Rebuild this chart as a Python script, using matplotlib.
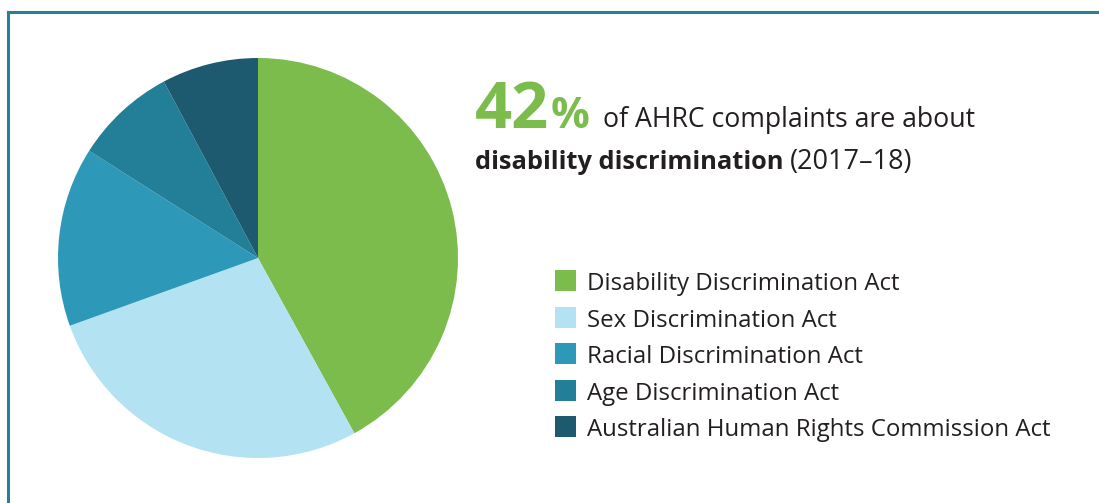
import matplotlib
matplotlib.use("Agg")
import matplotlib.pyplot as plt
from matplotlib.patches import Rectangle
from matplotlib.lines import Line2D

# ---- data ----
categories = [
    "Disability Discrimination Act",
    "Sex Discrimination Act",
    "Racial Discrimination Act",
    "Age Discrimination Act",
    "Australian Human Rights Commission Act",
]
shares = [42, 27.5, 14.5, 8.2, 7.8]
colors = ["#7bbc4c", "#b3e2f3", "#2e98b9", "#237e97", "#1d5a70"]
headline_value = "42"
headline_unit = "%"
headline_rest = "of AHRC complaints are about"
subline_bold = "disability discrimination"
subline_rest = "(2017\u201318)"

W, H = 1099, 503
plt.rcParams["font.family"] = ["Open Sans", "DejaVu Sans"]
TXT = "#231f20"
FRAME = "#2a7f98"

fig = plt.figure(figsize=(W / 100, H / 100), dpi=100)
fig.patch.set_facecolor("white")


def fx(px):
    return px / W


def fy(py):
    return 1 - py / H


# frame (top and left edges)
fig.add_artist(Line2D([fx(8), 1.0], [fy(12), fy(12)], color=FRAME, lw=2.2))
fig.add_artist(Line2D([fx(8), fx(8)], [fy(12), 0.0], color=FRAME, lw=2.2))

# pie
ax = fig.add_axes([58 / W, (H - 458) / H, 400 / W, 400 / H])
ax.pie(shares, colors=colors, startangle=90, counterclock=False, radius=1,
       wedgeprops=dict(linewidth=0))
ax.set_xlim(-1, 1)
ax.set_ylim(-1, 1)
ax.set_aspect("equal")
ax.axis("off")

renderer = fig.canvas.get_renderer()


def place(s, x0, x1, baseline, size=None, **kw):
    t = fig.text(fx(x0), fy(baseline), s, va="baseline", ha="left",
                 fontsize=20 if size is None else size, **kw)
    if size is None:
        bb = t.get_window_extent(renderer)
        t.set_fontsize(20 * (x1 - x0) / bb.width)
    return t


place(headline_value, 475, 549, 127.5, color=colors[0], fontweight="bold")
place(headline_unit, 551, None, 127.5, size=31, color=colors[0], fontweight="bold")
place(headline_rest, 603, 975, 127.5, color=TXT)
place(subline_bold, 475, 783, 169.5, color=TXT, fontweight="bold")
place(subline_rest, 790, 912, 169.5, color=TXT)

# legend
longest = place(categories[-1], 587, 1050, 290 + 4 * 36.6, color=TXT)
lsize = longest.get_fontsize()
for i, (cat, col) in enumerate(zip(categories, colors)):
    yc = 280.5 + i * 36.6
    fig.add_artist(Rectangle((fx(554.5), fy(yc + 10.5)), 21 / W, 21 / H,
                             transform=fig.transFigure, facecolor=col,
                             edgecolor="none"))
    if i < len(categories) - 1:
        place(cat, 587, None, 290 + i * 36.6, size=lsize, color=TXT)

fig.savefig("out.png", dpi=100, facecolor="white")
